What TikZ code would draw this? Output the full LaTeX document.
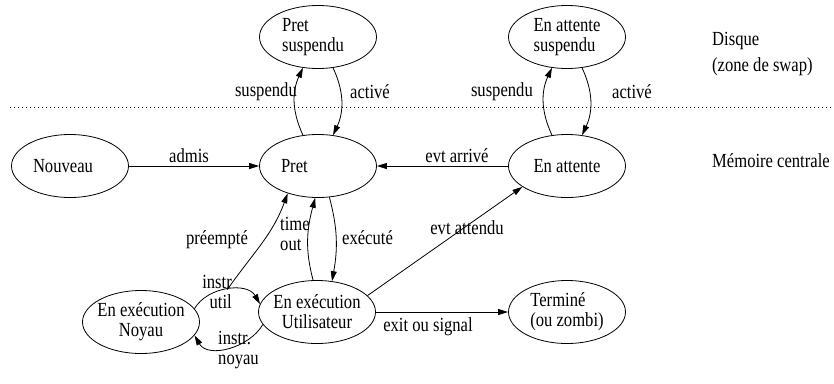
\documentclass[tikz,border=0pt]{standalone}
\usepackage{fontspec}
\setmainfont{Liberation Serif}[FakeStretch=0.83]
\usetikzlibrary{shapes.geometric,arrows.meta}
\begin{document}
\begin{tikzpicture}[x=1pt,y=-1pt,
  every node/.style={font=\fontsize{20}{20}\selectfont, inner sep=0pt},
  state/.style={draw, ellipse, minimum width=117pt, minimum height=63pt, inner xsep=-4pt, inner ysep=-2pt, line width=0.8pt},
  arr/.style={line width=0.8pt, -{Triangle[length=10pt,width=6pt]}},
  sep/.style={line width=0.8pt, dash pattern=on 0.8pt off 3.2pt}]
\useasboundingbox (0,0) rectangle (834,383);

% states
\node[state] (nouveau) at (70,166) {\makebox[74pt][l]{Nouveau}};
\node[state] (pret) at (318,166) {\makebox[74pt][l]{Pret}};
\node[state] (attente) at (567,166) {En attente};
\node[state,align=left] (pretS) at (318,37) {Pret\\suspendu\rule{10pt}{0pt}};
\node[state,align=left] (attS) at (567,37) {En attente\\suspendu};
\node[state,align=center] (noyau) at (141,322) {En exécution\\Noyau};
\node[state,align=center] (util) at (317,312) {En exécution\\Utilisateur};
\node[state,align=left] (term) at (567,312) {Terminé\\(ou zombi)};

% separator
\coordinate (dl) at (10,107);
\coordinate (dr) at (834,107);
\draw[sep] (dl) -- (dr);

% zone labels
\node[anchor=west,align=left] (disque) at (712,54) {Disque\\[6pt](zone de swap)};
\node[anchor=west] (memoire) at (712,161) {Mémoire centrale};

% transitions
\draw[arr] (nouveau) -- (pret);
\draw[arr] (attente) -- (pret);
\draw[arr] (pret.116) to[out=115,in=245] (pretS.244);
\draw[arr] (pretS.296) to[out=-65,in=65] (pret.64);
\draw[arr] (attente.116) to[out=115,in=245] (attS.244);
\draw[arr] (attS.296) to[out=-65,in=65] (attente.64);
\draw[arr] (util.97) to[out=105,in=255] (pret.265);
\draw[arr] (pret.290) to[out=-75,in=80] (util.64);
\draw[arr] (noyau.14) to[out=60,in=120] coordinate[pos=0.5] (apex) (util.172);
\draw[arr] (util.193) to[out=-120,in=-60] (noyau.346);
\draw[arr] (apex) to[out=55,in=250] (pret.222);
\draw[arr] (util.18) -- (attente.205);
\draw[arr] (util) -- (term);

% transition labels
\node (admis) at (189,156) {admis};
\node (evtarr) at (457,156) {evt arrivé};
\node[anchor=east] (susp1) at (297,92) {suspendu};
\node[anchor=west] (act1) at (350,92) {activé};
\node[anchor=east] (susp2) at (533,92) {suspendu};
\node[anchor=west] (act2) at (612,92) {activé};
\node (preempt) at (217,240) {préempté};
\node[anchor=west,align=left] (timeout) at (280,234) {time\\out};
\node[anchor=west] (execute) at (342,238) {exécuté};
\node (evtatt) at (467,228) {evt attendu};
\node[anchor=east,align=right] (iutil) at (232,292) {instr\\util};
\node[anchor=west,align=left] (inoyau) at (218,350) {instr.\\noyau};
\node (exit) at (428,327) {exit ou signal};
\end{tikzpicture}
\end{document}
